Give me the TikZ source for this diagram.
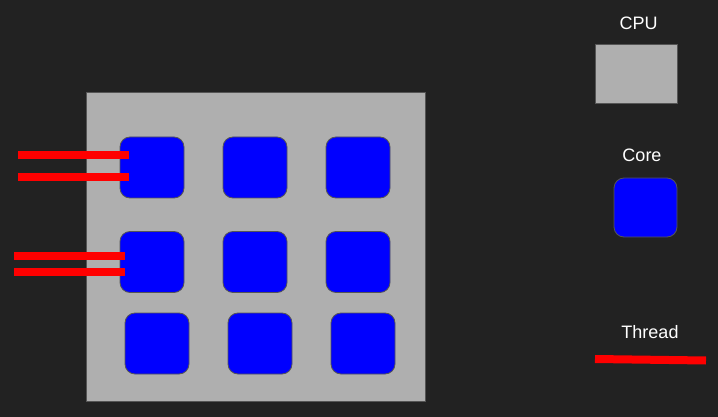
\documentclass[tikz,border=0pt]{standalone}
\usepackage{fontspec}
\setmainfont{Liberation Sans}
\definecolor{bgdark}{HTML}{222222}
\definecolor{cpugray}{HTML}{AFAFAF}
\definecolor{edgegray}{HTML}{555555}
\definecolor{coreblue}{HTML}{0000FF}
\definecolor{threadred}{HTML}{FF0000}
\begin{document}
\begin{tikzpicture}[
x=1pt, y=-1pt,
cpubox/.style={draw=edgegray, fill=cpugray, line width=1pt, rectangle, inner sep=0pt},
corebox/.style={draw=edgegray, fill=coreblue, line width=0.8pt, rectangle, rounded corners=10pt, minimum width=64pt, minimum height=61pt, inner sep=0pt},
threadline/.style={draw=threadred, line width=8pt},
legendtext/.style={text=white, font=\fontsize{18}{20}\selectfont, anchor=base, inner sep=0pt}
]

\fill[bgdark] (0,0) rectangle (718,417);

% cpu
\node (cpu) at (255.5,247) [cpubox, minimum width=339pt, minimum height=308pt] {};

\node (c11) at (152,167.5) [corebox] {};
\node (c12) at (255,167.5) [corebox] {};
\node (c13) at (358,167.5) [corebox] {};
\node (c21) at (152,262) [corebox] {};
\node (c22) at (255,262) [corebox] {};
\node (c23) at (358,262) [corebox] {};
\node (c31) at (157,343.5) [corebox] {};
\node (c32) at (260,343.5) [corebox] {};
\node (c33) at (363,343.5) [corebox] {};

% threads
\coordinate (t1s) at (18,155);  \coordinate (t1e) at (129,155);
\coordinate (t2s) at (18,177);  \coordinate (t2e) at (129,177);
\coordinate (t3s) at (14,255.5); \coordinate (t3e) at (125,255.5);
\coordinate (t4s) at (14,272);  \coordinate (t4e) at (125,272);
\draw[threadline] (t1s) -- (t1e);
\draw[threadline] (t2s) -- (t2e);
\draw[threadline] (t3s) -- (t3e);
\draw[threadline] (t4s) -- (t4e);

% legend
\node (cpulabel) at (638.5,30) [legendtext] {CPU};
\node (cpukey) at (636.5,74) [cpubox, minimum width=82pt, minimum height=59pt] {};
\node (corelabel) at (642,162) [legendtext] {Core};
\node (corekey) at (645.5,207.5) [corebox, minimum width=63pt, minimum height=59pt] {};
\node (threadlabel) at (650,338) [legendtext] {Thread};
\coordinate (tks) at (595,359);
\coordinate (tke) at (706,360.5);
\draw[threadline] (tks) -- (tke);

\end{tikzpicture}
\end{document}
